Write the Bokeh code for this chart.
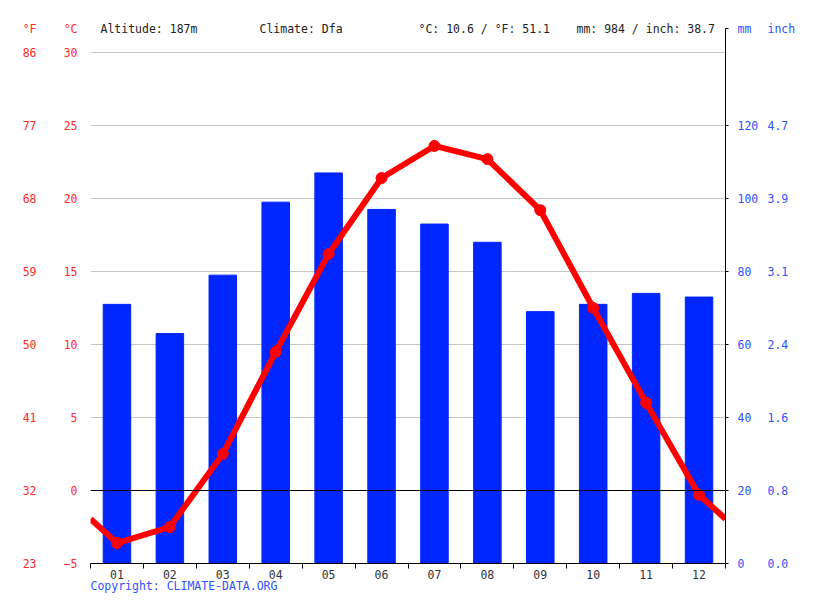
from bokeh.plotting import figure
from bokeh.models import (Range1d, LinearAxis, FixedTicker, Span)
from bokeh.embed import file_html
from bokeh.resources import INLINE

# ---- data ----
months = [1, 2, 3, 4, 5, 6, 7, 8, 9, 10, 11, 12]
month_labels = ["01", "02", "03", "04", "05", "06", "07", "08", "09", "10", "11", "12"]
temp_c = [-3.6, -2.5, 2.5, 9.5, 16.2, 21.4, 23.6, 22.7, 19.2, 12.5, 6.0, -0.3]
precip_mm = [71, 63, 79, 99, 107, 97, 93, 88, 69, 71, 74, 73]
c_ticks = [-5, 0, 5, 10, 15, 20, 25, 30]
f_labels = ["23", "32", "41", "50", "59", "68", "77", "86"]
mm_ticks = [0, 20, 40, 60, 80, 100, 120]
inch_labels = ["0.0", "0.8", "1.6", "2.4", "3.1", "3.9", "4.7"]
header_texts = ["Altitude: 187m", "Climate: Dfa", "°C: 10.6 / °F: 51.1", "mm: 984 / inch: 38.7"]
header_starts = [100, 259, 418, 576]      # left edge of each header text, px
copyright_text = "Copyright: CLIMATE-DATA.ORG"
copyright_start = 90

RED = "#ff0000"
RED_T = "#ff2a2a"
BLUE = "#0026ff"
BLUE_T = "#2f52ff"
FONT = "DejaVu Sans Mono"
FSN = 11.5
FS = f"{FSN}px"
CHAR_W = 0.602 * FSN

W, H = 799, 595
FL, FR, FT, FB = 90, 725, 28, 563          # frame edges in canvas pixels
PX_PER_C = 511 / 35                        # 30 °C sits 24 px below the frame top
c_top = 30 + 24 / PX_PER_C
mm_top = (c_top + 5) * 4                   # mm axis: 20 mm per 5 °C, 0 mm at -5 °C

p = figure(width=W, height=H, output_backend="svg", toolbar_location=None,
           x_range=Range1d(0.5, 12.5), y_range=Range1d(-5, c_top),
           min_border_left=FL, min_border_right=W - FR,
           min_border_top=FT, min_border_bottom=H - FB)
p.outline_line_color = None
p.extra_y_ranges = {"mm": Range1d(0, mm_top)}

# grid
p.xgrid.visible = False
p.ygrid.ticker = FixedTicker(ticks=[t for t in c_ticks if t > 0])
p.ygrid.grid_line_color = "#c4c4c4"

# bars
p.vbar(x=months, top=precip_mm, bottom=0, width=0.52, color=BLUE, y_range_name="mm")

p.add_layout(Span(location=0, dimension="width", line_color="black", line_width=1))

# temperature line (wraps to half month before Jan / after Dec)
edge = (temp_c[0] + temp_c[-1]) / 2
xs = [0.5] + months + [12.5]
ys = [edge] + temp_c + [edge]
p.line(xs, ys, line_color=RED, line_width=6, line_join="round")
p.scatter(months, temp_c, size=11, color=RED, marker="circle")


def text_style(ax, color, standoff):
    ax.major_label_text_font = FONT
    ax.major_label_text_font_size = FS
    ax.major_label_text_color = color
    ax.major_label_standoff = standoff


def no_ticks(ax):
    ax.axis_line_color = None
    ax.major_tick_line_color = None
    ax.minor_tick_line_color = None
    ax.major_tick_out = 0
    ax.major_tick_in = 0


# x axis
xa = p.xaxis[0]
xa.ticker = FixedTicker(ticks=months, minor_ticks=[m - 0.5 for m in months] + [12.5])
xa.major_label_overrides = {m: l for m, l in zip(months, month_labels)}
xa.major_tick_line_color = None
xa.major_tick_out = 0
xa.minor_tick_in = 0
xa.minor_tick_out = 5
xa.minor_tick_line_color = "black"
xa.axis_line_color = "black"
text_style(xa, "#333333", 1)

# left °C axis (header "°C" sits at the frame top)
ya = p.yaxis[0]
ya.ticker = FixedTicker(ticks=c_ticks + [c_top])
ya.major_label_overrides = {c_top: "°C"}
no_ticks(ya)
text_style(ya, RED_T, 13)

# left °F axis
fa = LinearAxis(ticker=FixedTicker(ticks=c_ticks + [c_top]),
                major_label_overrides={**{c: f for c, f in zip(c_ticks, f_labels)}, c_top: "°F"})
no_ticks(fa)
text_style(fa, RED_T, 24)
p.add_layout(fa, "left")

# right mm axis
ma = LinearAxis(y_range_name="mm", ticker=FixedTicker(ticks=mm_ticks + [mm_top]),
                major_label_overrides={mm_top: "mm"})
ma.axis_line_color = "black"
ma.major_tick_line_color = "black"
ma.major_tick_out = 3
ma.major_tick_in = 0
ma.minor_tick_line_color = None
text_style(ma, BLUE_T, 9)
p.add_layout(ma, "right")

# right inch axis
ia = LinearAxis(y_range_name="mm", ticker=FixedTicker(ticks=mm_ticks + [mm_top]),
                major_label_overrides={**{m: i for m, i in zip(mm_ticks, inch_labels)}, mm_top: "inch"})
no_ticks(ia)
text_style(ia, BLUE_T, 6)
p.add_layout(ia, "right")

X_PER_PX = 12 / (FR - FL)


def centre(start, text):
    return 0.5 + (start + len(text) * CHAR_W / 2 - FL) * X_PER_PX


# header row: labels of an axis above the frame, centred on each text
h_pos = [centre(s, t) for s, t in zip(header_starts, header_texts)]
ha = LinearAxis(ticker=FixedTicker(ticks=h_pos),
                major_label_overrides={x: t for x, t in zip(h_pos, header_texts)})
no_ticks(ha)
text_style(ha, "#222222", -7)
p.add_layout(ha, "above")

# copyright: label of a second axis below the month labels
c_pos = centre(copyright_start, copyright_text)
ca = LinearAxis(ticker=FixedTicker(ticks=[c_pos]), major_label_overrides={c_pos: copyright_text})
no_ticks(ca)
text_style(ca, BLUE_T, -3)
p.add_layout(ca, "below")

open("out.html", "w").write(file_html(p, INLINE))
